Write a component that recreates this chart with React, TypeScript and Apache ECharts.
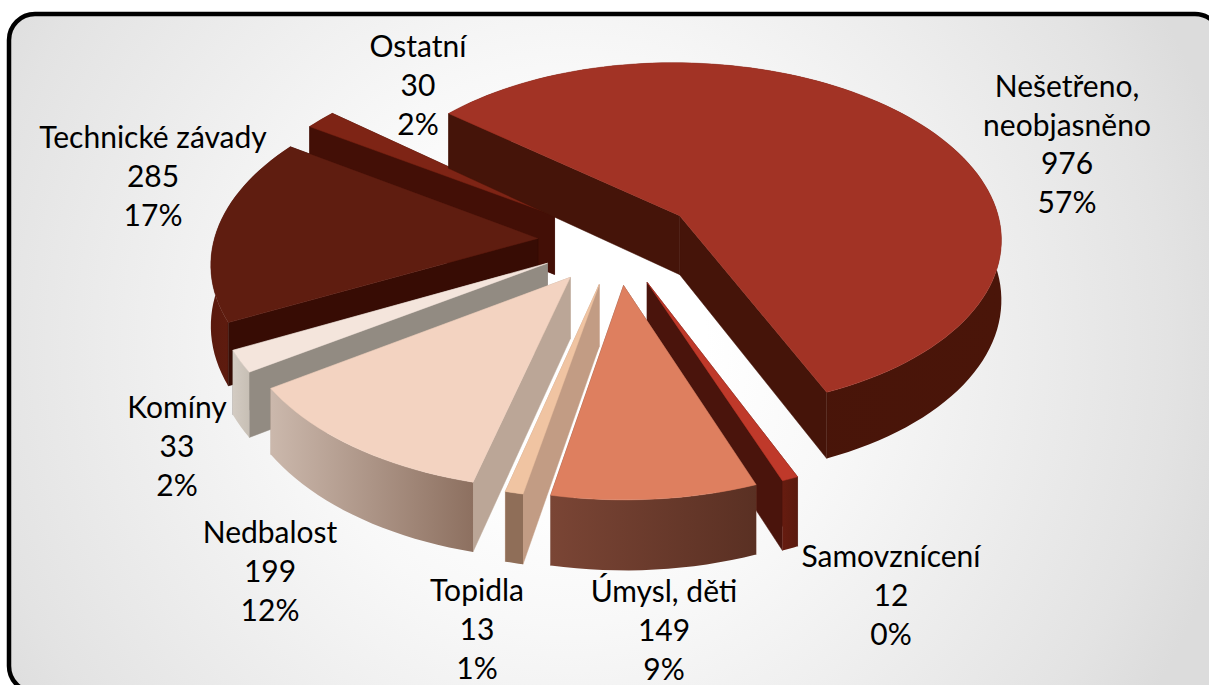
import React, { useEffect, useRef } from "react";
import * as echarts from "echarts";

const categories = ["Nešetřeno,\nneobjasněno", "Samovznícení", "Úmysl, děti", "Topidla", "Nedbalost", "Komíny", "Technické závady", "Ostatní"];
const values = [976, 12, 149, 13, 199, 33, 285, 30];
const percents = ["57%", "0%", "9%", "1%", "12%", "2%", "17%", "2%"];
const topColors = ["#A23325", "#BF392A", "#DE7F5F", "#F0C4A2", "#F3D3C1", "#F4E5DC", "#5F1D10", "#7E2415"];
const cutColors = ["#451409", "#4A140C", "#7A4A3A", "#C29C84", "#BBA697", "#928B82", "#370C04", "#430F06"];
const rimLeft = ["#451409", "#661C10", "#7A4535", "#8F6E58", "#CBB8AC", "#D3CBC2", "#5A1A0E", "#430F06"];
const rimRight = ["#4A1509", "#5A1A0E", "#5A3023", "#8F6E58", "#8D7060", "#C7BFB5", "#6B2012", "#430F06"];
const labelX = [1067, 891, 664, 477, 270, 177, 153, 418];
const labelY = [143, 594, 629, 628, 570, 445, 175, 84];

const START_DEG = 310;
const EXPLODE = 0.245;
const CX = 617, CY = 241, RX = 324, RY = 177, PERSP = 0.12, THICK = 60;

const total = values.reduce((a, b) => a + b, 0);
const rad = (d: number) => (d * Math.PI) / 180;

function sliceAngles(i: number) {
  let a = START_DEG;
  for (let k = 0; k < i; k++) a += (values[k] / total) * 360;
  return [a, a + (values[i] / total) * 360];
}
function project(x: number, y: number, z: number) {
  const f = 1 / (1 - PERSP * y);
  return [CX + x * RX * f, CY + y * RY * f - z * THICK * f];
}

const drawOrder = values
  .map((_, i) => i)
  .sort((p, q) => {
    const bis = (i: number) => { const [a, b] = sliceAngles(i); return -Math.cos(rad((a + b) / 2)); };
    return bis(p) - bis(q);
  });

function renderSlice(params: any) {
  const i = drawOrder[params.dataIndex];
  const [a0, a1] = sliceAngles(i);
  const mid = rad((a0 + a1) / 2);
  const ox = Math.sin(mid) * EXPLODE, oy = -Math.cos(mid) * EXPLODE;
  const steps = Math.max(4, Math.ceil((a1 - a0) / 2));
  const arcTop: number[][] = [], arcBot: number[][] = [];
  for (let s = 0; s <= steps; s++) {
    const t = rad(a0 + ((a1 - a0) * s) / steps);
    const x = ox + Math.sin(t), y = oy - Math.cos(t);
    arcTop.push(project(x, y, 0));
    arcBot.push(project(x, y, -1));
  }
  const apexTop = project(ox, oy, 0), apexBot = project(ox, oy, -1);
  const n = arcTop.length - 1;
  const poly = (points: number[][], fill: any) => ({
    type: "polygon", shape: { points },
    style: { fill, stroke: typeof fill === "string" ? fill : undefined, lineWidth: typeof fill === "string" ? 0.5 : 0 },
  });
  const rimGrad = new echarts.graphic.LinearGradient(0, 0, 1, 0, [
    { offset: 0, color: rimLeft[i] },
    { offset: 1, color: rimRight[i] },
  ]);
  const walls: { depth: number; el: any }[] = [
    { depth: (arcTop[0][1] + apexTop[1]) / 2, el: poly([apexTop, arcTop[0], arcBot[0], apexBot], cutColors[i]) },
    { depth: (arcTop[n][1] + apexTop[1]) / 2, el: poly([apexTop, arcTop[n], arcBot[n], apexBot], cutColors[i]) },
    { depth: arcTop[Math.floor(n / 2)][1], el: poly([...arcTop, ...arcBot.slice().reverse()], rimGrad) },
  ];
  walls.sort((p, q) => p.depth - q.depth);
  return {
    type: "group",
    children: [...walls.map((w) => w.el), poly([apexTop, ...arcTop], topColors[i])],
  };
}

export default function App() {
  const ref = useRef<HTMLDivElement>(null);
  useEffect(() => {
    const chart = echarts.init(ref.current!, null, { renderer: "svg" });
    chart.setOption({
      animation: false,
      graphic: {
        elements: [
          {
            type: "rect",
            z: -10,
            shape: { x: 9, y: 14, width: 1212, height: 678, r: 26 },
            style: {
              fill: new echarts.graphic.RadialGradient(570, 345, 680, [
                { offset: 0, color: "#FFFFFF" },
                { offset: 0.2, color: "#FFFFFF" },
                { offset: 0.41, color: "#F8F8F8" },
                { offset: 0.88, color: "#E3E3E3" },
                { offset: 1, color: "#DCDCDC" },
              ], true),
              stroke: "#000000",
              lineWidth: 4.5,
            },
          },
          ...categories.map((c, i) => ({
            type: "text",
            z: 10,
            x: labelX[i],
            y: labelY[i],
            style: {
              text: `${c}\n${values[i]}\n${percents[i]}`,
              font: '30px Lato, "Noto Sans", sans-serif',
              fill: "#000000",
              align: "center",
              verticalAlign: "middle",
              lineHeight: 38.7,
            },
          })),
        ],
      },
      series: [
        {
          type: "custom",
          coordinateSystem: "none",
          silent: true,
          data: drawOrder.map((i) => values[i]),
          renderItem: renderSlice,
        },
      ],
    });
    return () => chart.dispose();
  }, []);
  return <div ref={ref} style={{ position: "fixed", left: 0, top: 0, width: 1209, height: 685, background: "#fff" }} />;
}
